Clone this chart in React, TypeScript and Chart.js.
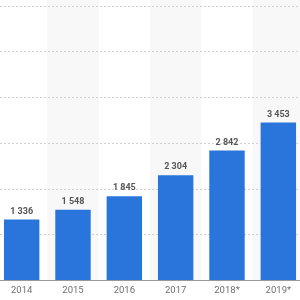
import React, { useEffect, useRef } from "react";
import { Chart, registerables } from "chart.js";

Chart.register(...registerables);

const categories = ["2014", "2015", "2016", "2017", "2018*", "2019*"];
const values = [1336, 1548, 1845, 2304, 2842, 3453];
const yMax = 6000;
const yStep = 1000;

const fmt = (v: number) => String(v).replace(/\B(?=(\d{3})+(?!\d))/g, " ");

const bandsPlugin = {
  id: "bands",
  beforeDraw(chart: any) {
    const { ctx, chartArea, scales } = chart;
    const x = scales.x;
    ctx.save();
    ctx.fillStyle = "#f8f8f8";
    const n = categories.length;
    const w = (chartArea.right - chartArea.left) / n;
    for (let i = 1; i < n; i += 2) {
      const c = x.getPixelForValue(i);
      ctx.fillRect(c - w / 2, 0, w, chartArea.bottom);
    }
    ctx.restore();
  },
};

const labelsPlugin = {
  id: "valueLabels",
  afterDatasetsDraw(chart: any) {
    const { ctx } = chart;
    const meta = chart.getDatasetMeta(0);
    ctx.save();
    ctx.font = "bold 9px Roboto, 'Liberation Sans', sans-serif";
    ctx.fillStyle = "#555555";
    ctx.textAlign = "center";
    ctx.textBaseline = "middle";
    meta.data.forEach((bar: any, i: number) => {
      ctx.fillText(fmt(values[i]), bar.x, bar.y - 8);
    });
    ctx.restore();
  },
};

export default function App() {
  const ref = useRef<HTMLCanvasElement>(null);
  useEffect(() => {
    if (!ref.current) return;
    const chart = new Chart(ref.current, {
      type: "bar",
      data: {
        labels: categories,
        datasets: [
          {
            data: values,
            backgroundColor: "#2a75dc",
            borderWidth: 0,
            categoryPercentage: 1,
            barPercentage: 0.69,
          },
        ],
      },
      options: {
        animation: false,
        responsive: true,
        maintainAspectRatio: false,
        layout: { padding: { top: 6, bottom: 0, left: 0, right: 0 } },
        plugins: { legend: { display: false }, tooltip: { enabled: false } },
        scales: {
          x: {
            grid: { display: false, drawTicks: false },
            border: { display: true, color: "#999999", width: 1 },
            ticks: {
              padding: 4,
              color: "#707070",
              font: { size: 9.5, family: "Roboto, 'Liberation Sans', sans-serif" },
            },
          },
          y: {
            min: 0,
            max: yMax,
            ticks: { display: false, stepSize: yStep },
            grid: { color: "#d0d0d0", drawTicks: false, lineWidth: 1 },
            border: { display: false, dash: [2, 2] },
          },
        },
      },
      plugins: [bandsPlugin, labelsPlugin],
    });
    return () => chart.destroy();
  }, []);
  return (
    <div style={{ position: "absolute", left: -4, top: 0, width: 308, height: 300 }}>
      <canvas ref={ref} />
    </div>
  );
}
